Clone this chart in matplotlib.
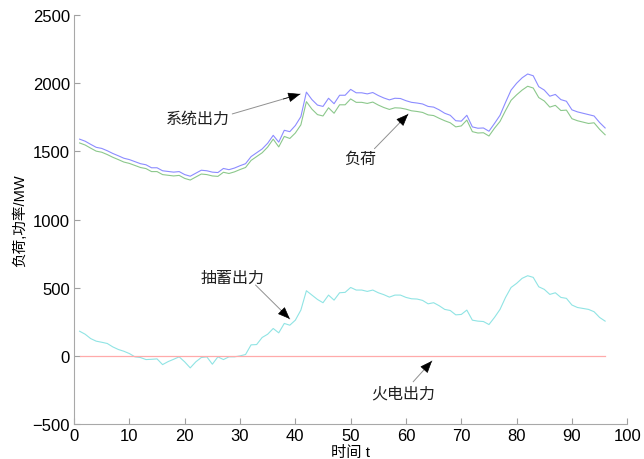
import matplotlib
matplotlib.use("Agg")
import matplotlib.pyplot as plt
import numpy as np

plt.rcParams['font.family'] = ['Liberation Sans', 'Noto Sans CJK SC', 'DejaVu Sans']

t = np.arange(1, 97)

# 系统出力
system_out = [1590, 1575, 1552, 1530, 1522, 1505, 1485, 1468, 1450, 1440,
              1425, 1410, 1402, 1380, 1380, 1358, 1353, 1348, 1352, 1330,
              1318, 1340, 1362, 1358, 1348, 1345, 1375, 1366, 1378, 1395,
              1410, 1462, 1490, 1518, 1560, 1618, 1568, 1655, 1645, 1690,
              1755, 1935, 1880, 1840, 1830, 1890, 1850, 1912, 1912, 1955,
              1930, 1930, 1922, 1932, 1910, 1892, 1878, 1890, 1888, 1872,
              1860, 1855, 1848, 1830, 1825, 1805, 1780, 1765, 1725, 1722,
              1765, 1680, 1670, 1672, 1648, 1705, 1765, 1860, 1950, 2000,
              2040, 2068, 2055, 1975, 1950, 1905, 1918, 1880, 1868, 1805,
              1790, 1780, 1770, 1760, 1712, 1672]

# 负荷
load = [1562, 1547, 1524, 1502, 1494, 1477, 1457, 1440, 1422, 1412,
        1397, 1382, 1374, 1352, 1352, 1330, 1325, 1320, 1324, 1302,
        1290, 1312, 1334, 1330, 1320, 1317, 1347, 1338, 1350, 1367,
        1382, 1434, 1462, 1490, 1532, 1590, 1533, 1610, 1595, 1635,
        1695, 1865, 1810, 1770, 1760, 1820, 1780, 1842, 1842, 1885,
        1860, 1860, 1852, 1862, 1840, 1822, 1808, 1820, 1818, 1810,
        1798, 1793, 1786, 1768, 1763, 1743, 1725, 1710, 1680, 1687,
        1730, 1645, 1635, 1637, 1613, 1670, 1720, 1800, 1875, 1915,
        1950, 1978, 1965, 1895, 1870, 1825, 1838, 1800, 1803, 1740,
        1725, 1715, 1705, 1710, 1662, 1622]

# 抽蓄出力
pumped = [181, 159, 127, 108, 100, 91, 66, 47, 34, 17,
          -7, -12, -27, -25, -22, -64, -42, -25, -7, -44,
          -88, -44, -12, -7, -61, -7, -27, -7, -7, 0,
          10, 81, 83, 135, 159, 201, 169, 238, 225, 262,
          336, 478, 446, 414, 390, 446, 409, 463, 466, 502,
          483, 483, 473, 483, 463, 449, 431, 446, 446, 429,
          419, 417, 407, 382, 390, 368, 341, 333, 301, 304,
          336, 262, 255, 252, 230, 282, 341, 429, 502, 532,
          569, 588, 576, 507, 488, 451, 463, 429, 422, 373,
          355, 348, 341, 324, 282, 255]

# 火电出力
thermal = [0] * 96

fig = plt.figure(figsize=(6.44, 4.6), dpi=100)
ax = fig.add_axes([0.115, 0.076, 0.859, 0.889])

ax.plot(t, system_out, color='#8c8cff', lw=0.8)
ax.plot(t, load, color='#8cc88c', lw=0.8)
ax.plot(t, pumped, color='#90e4e4', lw=0.8)
ax.plot(t, thermal, color='#ffaaaa', lw=0.9)

ax.set_xlim(0, 100)
ax.set_ylim(-500, 2500)
ax.set_xticks(np.arange(0, 101, 10))
ax.set_yticks(np.arange(-500, 2501, 500))
ax.tick_params(direction='in', length=4, color='#a0a0a0', labelsize=12, pad=3)
for side in ['top', 'right']:
    ax.spines[side].set_visible(False)
for side in ['left', 'bottom']:
    ax.spines[side].set_color('#a8a8a8')
    ax.spines[side].set_linewidth(0.8)

ax.set_xlabel('时间 t', fontsize=11, labelpad=1)
ax.set_ylabel('负荷,功率/MW', fontsize=10.5, labelpad=4)

shaft = dict(arrowstyle='-', color='#909090', lw=0.7, shrinkA=0, shrinkB=0)
head = dict(arrowstyle='-|>,head_length=0.55,head_width=0.22', fc='k', ec='k',
            lw=0.5, mutation_scale=14, shrinkA=0, shrinkB=0)
tfont = dict(fontsize=11.5, color='#202020', va='center', ha='center')


def pointer(tip, tail):
    # gray shaft with a slim black head at the tip
    ax.annotate('', xy=tip, xytext=tail, arrowprops=shaft)
    ax.annotate('', xy=tip, xytext=(tip[0] + (tail[0] - tip[0]) * 0.25,
                                    tip[1] + (tail[1] - tip[1]) * 0.25),
                arrowprops=head)


pointer((40.9, 1921), (28.6, 1775))
ax.text(22.3, 1745, '系统出力', **tfont)

pointer((60.4, 1774), (54.3, 1520))
ax.text(51.7, 1452, '负荷', **tfont)

pointer((39.0, 271), (32.8, 520))
ax.text(28.6, 579, '抽蓄出力', **tfont)

pointer((64.7, -37), (61.3, -190))
ax.text(59.5, -271, '火电出力', **tfont)

fig.savefig('out.png', dpi=100)
